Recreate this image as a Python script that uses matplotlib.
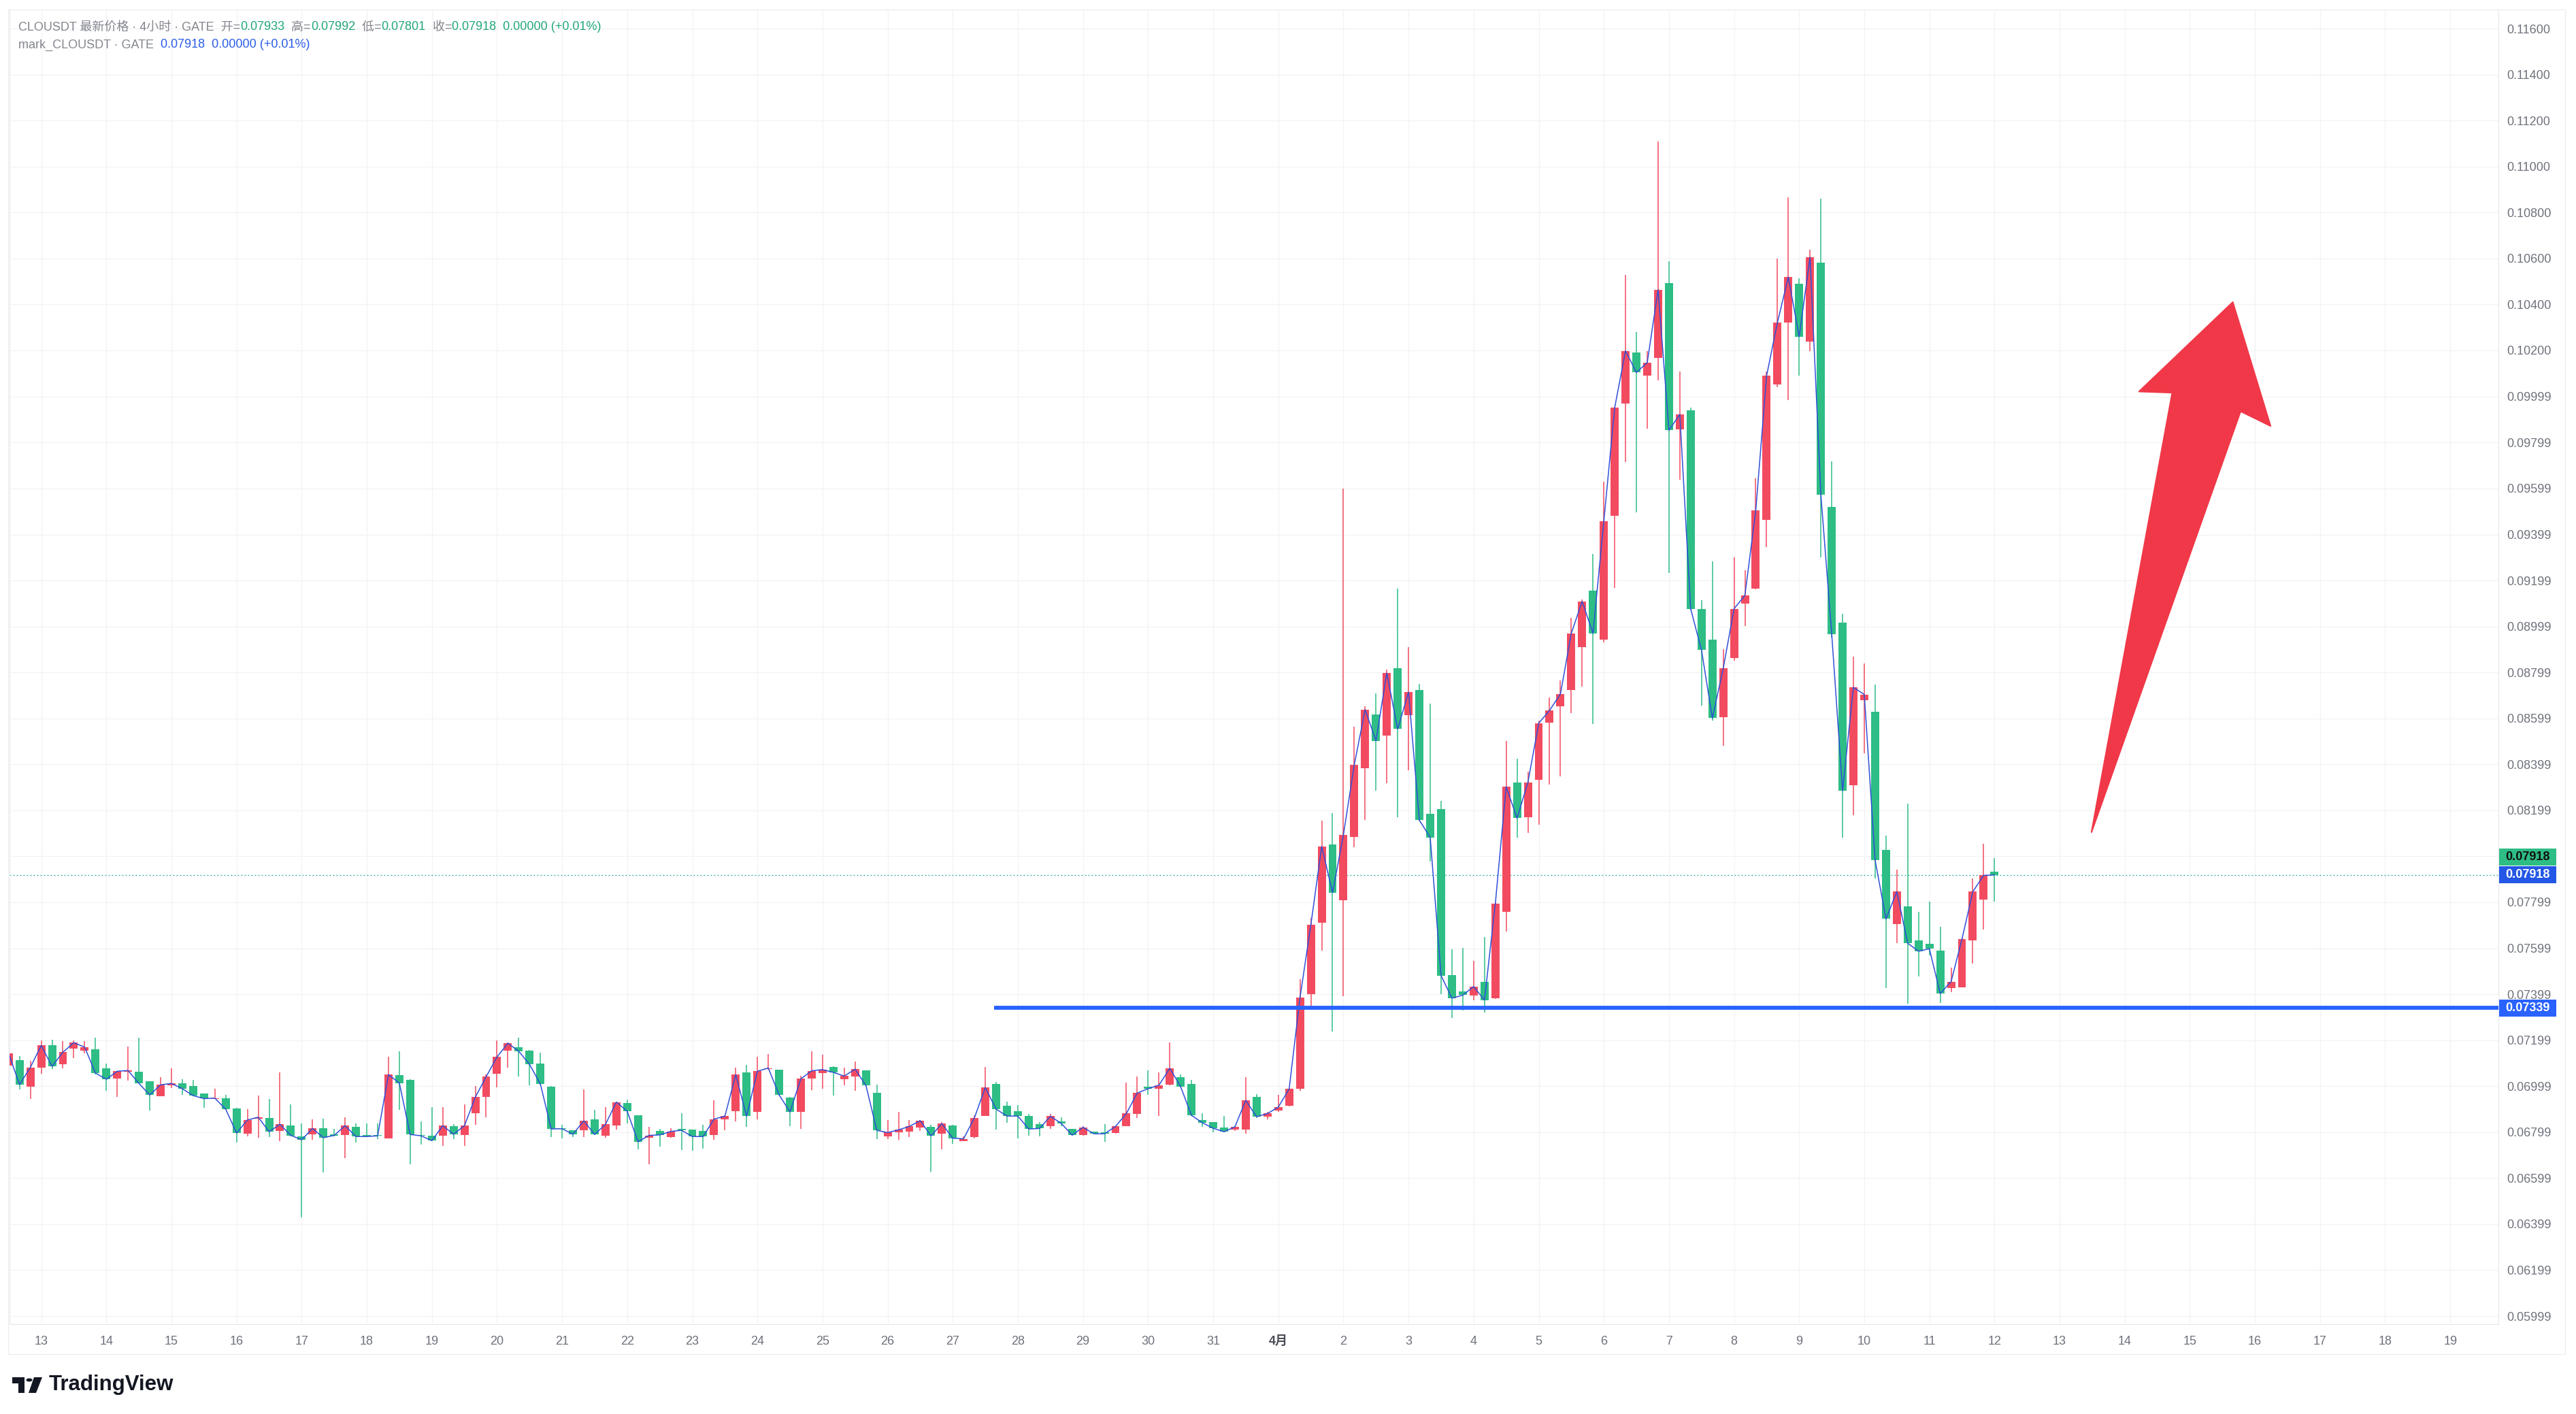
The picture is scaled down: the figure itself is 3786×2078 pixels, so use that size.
import numpy as np
import matplotlib.pyplot as plt
from matplotlib.patches import Polygon, Rectangle, Circle
from matplotlib.transforms import blended_transform_factory

plt.rcParams['font.family'] = ['Liberation Sans', 'Noto Sans CJK SC', 'DejaVu Sans']

# CLOUSDT 4h candles on GATE, first candle 12 Mar 12:00, last 12 Apr 00:00
opens = [0.07088, 0.07113, 0.06997, 0.07080, 0.07176, 0.07094, 0.07163, 0.07155, 0.07161, 0.07076,
         0.07032, 0.07062, 0.07062, 0.07019, 0.06955, 0.07004, 0.07013, 0.06999, 0.06967, 0.06943,
         0.06945, 0.06901, 0.06792, 0.06857, 0.06862, 0.06804, 0.06828, 0.06782, 0.06790, 0.06815,
         0.06790, 0.06786, 0.06821, 0.06786, 0.06787, 0.06772, 0.07046, 0.07026, 0.06785, 0.06784,
         0.06783, 0.06824, 0.06786, 0.06881, 0.06952, 0.07053, 0.07154, 0.07167, 0.07155, 0.07096,
         0.06996, 0.06817, 0.06806, 0.06807, 0.06854, 0.06783, 0.06829, 0.06926, 0.06871, 0.06775,
         0.06804, 0.06777, 0.06812, 0.06809, 0.06803, 0.06786, 0.06854, 0.06889, 0.07058, 0.06887,
         0.07074, 0.07070, 0.06950, 0.06887, 0.07032, 0.07056, 0.07084, 0.07029, 0.07041, 0.07067,
         0.06969, 0.06780, 0.06799, 0.06802, 0.06819, 0.06821, 0.06792, 0.06828, 0.06760, 0.06777,
         0.06869, 0.07010, 0.06913, 0.06889, 0.06868, 0.06833, 0.06825, 0.06847, 0.06812, 0.06786,
         0.06800, 0.06797, 0.06795, 0.06825, 0.06878, 0.06996, 0.06988, 0.07005, 0.07037, 0.07010,
         0.06851, 0.06842, 0.06820, 0.06811, 0.06810, 0.06952, 0.06866, 0.06893, 0.06914, 0.06987,
         0.07400, 0.07709, 0.08050, 0.07809, 0.08082, 0.08383, 0.08616, 0.08525, 0.08816, 0.08614,
         0.08723, 0.08184, 0.08205, 0.07483, 0.07411, 0.07392, 0.07453, 0.07381, 0.07759, 0.08320,
         0.08170, 0.08333, 0.08581, 0.08653, 0.08723, 0.08908, 0.09156, 0.08943, 0.09479, 0.09968,
         0.10191, 0.10091, 0.10167, 0.10492, 0.09856, 0.09938, 0.09076, 0.08942, 0.08605, 0.08862,
         0.09100, 0.09164, 0.09462, 0.10051, 0.10320, 0.10490, 0.10238, 0.10583, 0.09518, 0.09015,
         0.08309, 0.08677, 0.08629, 0.08027, 0.07704, 0.07782, 0.07633, 0.07619, 0.07590, 0.07425,
         0.07430, 0.07633, 0.07812, 0.07933]
highs = [0.07145, 0.07130, 0.07108, 0.07199, 0.07200, 0.07194, 0.07197, 0.07194, 0.07209, 0.07096,
         0.07064, 0.07170, 0.07209, 0.07019, 0.07039, 0.07077, 0.07029, 0.07027, 0.06967, 0.06988,
         0.06960, 0.06906, 0.06898, 0.06957, 0.06942, 0.07059, 0.06921, 0.06838, 0.06855, 0.06859,
         0.06812, 0.06863, 0.06837, 0.06836, 0.06836, 0.07126, 0.07150, 0.07029, 0.06847, 0.06907,
         0.06907, 0.06834, 0.06919, 0.07000, 0.07051, 0.07199, 0.07190, 0.07209, 0.07157, 0.07144,
         0.07000, 0.06830, 0.06806, 0.06984, 0.06895, 0.06907, 0.06932, 0.06940, 0.06871, 0.06822,
         0.06812, 0.06815, 0.06881, 0.06809, 0.06830, 0.06937, 0.06871, 0.07081, 0.07090, 0.07126,
         0.07138, 0.07072, 0.06952, 0.07043, 0.07150, 0.07136, 0.07086, 0.07081, 0.07106, 0.07069,
         0.07007, 0.06853, 0.06887, 0.06851, 0.06851, 0.06832, 0.06842, 0.06832, 0.06782, 0.06873,
         0.07084, 0.07016, 0.06933, 0.06916, 0.06879, 0.06843, 0.06877, 0.06863, 0.06814, 0.06825,
         0.06802, 0.06834, 0.06826, 0.07014, 0.07040, 0.07067, 0.07059, 0.07189, 0.07050, 0.07025,
         0.06881, 0.06844, 0.06868, 0.06824, 0.07037, 0.06964, 0.06886, 0.06960, 0.06990, 0.07464,
         0.07730, 0.08153, 0.08187, 0.09598, 0.08563, 0.08653, 0.08708, 0.08810, 0.09164, 0.08910,
         0.08748, 0.08664, 0.08239, 0.07596, 0.07601, 0.07545, 0.07649, 0.07800, 0.08502, 0.08424,
         0.08368, 0.08590, 0.08690, 0.08765, 0.09037, 0.09115, 0.09314, 0.09628, 0.09955, 0.10527,
         0.10281, 0.10198, 0.11110, 0.10588, 0.10107, 0.09950, 0.09113, 0.09283, 0.08901, 0.09300,
         0.09244, 0.09644, 0.10107, 0.10600, 0.10867, 0.10515, 0.10638, 0.10860, 0.09717, 0.09054,
         0.08867, 0.08838, 0.08747, 0.08088, 0.07940, 0.08227, 0.07758, 0.07803, 0.07692, 0.07515,
         0.07645, 0.07904, 0.08053, 0.07992]
lows = [0.07085, 0.06985, 0.06943, 0.07052, 0.07074, 0.07078, 0.07121, 0.07143, 0.07049, 0.06979,
        0.06952, 0.07023, 0.07011, 0.06893, 0.06955, 0.06992, 0.06960, 0.06955, 0.06905, 0.06943,
        0.06896, 0.06753, 0.06782, 0.06775, 0.06777, 0.06760, 0.06782, 0.06427, 0.06765, 0.06624,
        0.06782, 0.06686, 0.06755, 0.06777, 0.06770, 0.06772, 0.06896, 0.06659, 0.06745, 0.06760,
        0.06739, 0.06770, 0.06739, 0.06832, 0.06863, 0.06994, 0.07081, 0.07040, 0.07003, 0.07004,
        0.06779, 0.06773, 0.06777, 0.06777, 0.06787, 0.06775, 0.06810, 0.06837, 0.06723, 0.06659,
        0.06736, 0.06775, 0.06721, 0.06718, 0.06726, 0.06766, 0.06806, 0.06845, 0.06822, 0.06856,
        0.07071, 0.06958, 0.06825, 0.06812, 0.06983, 0.06988, 0.06958, 0.07004, 0.06979, 0.07000,
        0.06770, 0.06770, 0.06767, 0.06779, 0.06804, 0.06626, 0.06725, 0.06748, 0.06760, 0.06773,
        0.06869, 0.06810, 0.06840, 0.06773, 0.06784, 0.06782, 0.06814, 0.06825, 0.06784, 0.06784,
        0.06792, 0.06757, 0.06793, 0.06825, 0.06861, 0.06960, 0.06869, 0.07003, 0.06995, 0.06870,
        0.06822, 0.06797, 0.06799, 0.06805, 0.06792, 0.06861, 0.06855, 0.06886, 0.06910, 0.06980,
        0.07349, 0.07588, 0.07238, 0.07390, 0.08040, 0.08158, 0.08285, 0.08318, 0.08169, 0.08373,
        0.08150, 0.07976, 0.07400, 0.07296, 0.07329, 0.07374, 0.07318, 0.07378, 0.07673, 0.08081,
        0.08101, 0.08135, 0.08311, 0.08346, 0.08621, 0.08738, 0.08576, 0.08930, 0.09168, 0.09713,
        0.09496, 0.09858, 0.10070, 0.09232, 0.09637, 0.09070, 0.08655, 0.08590, 0.08479, 0.08850,
        0.09000, 0.09160, 0.09343, 0.10040, 0.09985, 0.10090, 0.10198, 0.09300, 0.08950, 0.08080,
        0.08179, 0.08447, 0.07904, 0.07425, 0.07621, 0.07357, 0.07475, 0.07569, 0.07361, 0.07409,
        0.07428, 0.07534, 0.07680, 0.07801]
closes = [0.07141, 0.07006, 0.07081, 0.07176, 0.07085, 0.07147, 0.07188, 0.07169, 0.07056, 0.07029,
          0.07064, 0.07067, 0.07011, 0.06961, 0.07005, 0.07011, 0.06988, 0.06958, 0.06945, 0.06947,
          0.06899, 0.06795, 0.06852, 0.06864, 0.06801, 0.06833, 0.06785, 0.06766, 0.06815, 0.06775,
          0.06785, 0.06827, 0.06780, 0.06780, 0.06783, 0.07049, 0.07013, 0.06789, 0.06783, 0.06762,
          0.06827, 0.06790, 0.06827, 0.06951, 0.07040, 0.07126, 0.07186, 0.07151, 0.07094, 0.07008,
          0.06813, 0.06814, 0.06790, 0.06848, 0.06789, 0.06833, 0.06930, 0.06890, 0.06757, 0.06785,
          0.06787, 0.06802, 0.06807, 0.06780, 0.06780, 0.06856, 0.06868, 0.07049, 0.06869, 0.07064,
          0.07078, 0.06961, 0.06887, 0.07031, 0.07066, 0.07071, 0.07059, 0.07043, 0.07073, 0.07002,
          0.06807, 0.06797, 0.06809, 0.06824, 0.06849, 0.06783, 0.06836, 0.06773, 0.06770, 0.06862,
          0.06993, 0.06899, 0.06869, 0.06869, 0.06813, 0.06815, 0.06868, 0.06837, 0.06786, 0.06820,
          0.06792, 0.06792, 0.06824, 0.06880, 0.06969, 0.06988, 0.07003, 0.07077, 0.06997, 0.06872,
          0.06840, 0.06816, 0.06801, 0.06822, 0.06937, 0.06866, 0.06880, 0.06908, 0.06987, 0.07384,
          0.07701, 0.08042, 0.07841, 0.08092, 0.08397, 0.08637, 0.08502, 0.08796, 0.08553, 0.08713,
          0.08156, 0.08081, 0.07480, 0.07382, 0.07395, 0.07432, 0.07374, 0.07793, 0.08302, 0.08165,
          0.08320, 0.08578, 0.08634, 0.08705, 0.08969, 0.09108, 0.08969, 0.09457, 0.09951, 0.10198,
          0.10104, 0.10147, 0.10464, 0.09853, 0.09921, 0.09076, 0.08896, 0.08600, 0.08816, 0.09076,
          0.09134, 0.09504, 0.10090, 0.10322, 0.10519, 0.10260, 0.10605, 0.09572, 0.08966, 0.08285,
          0.08734, 0.08703, 0.07982, 0.07727, 0.07845, 0.07621, 0.07586, 0.07597, 0.07402, 0.07454,
          0.07638, 0.07845, 0.07916, 0.07918]

day_labels = ['13', '14', '15', '16', '17', '18', '19', '20', '21', '22', '23', '24', '25', '26',
              '27', '28', '29', '30', '31', '4月', '2', '3', '4', '5', '6', '7', '8', '9', '10',
              '11', '12', '13', '14', '15', '16', '17', '18', '19']
price_ticks = [0.116, 0.114, 0.112, 0.110, 0.108, 0.106, 0.104, 0.102, 0.09999, 0.09799, 0.09599,
               0.09399, 0.09199, 0.08999, 0.08799, 0.08599, 0.08399, 0.08199, 0.07999, 0.07799,
               0.07599, 0.07399, 0.07199, 0.06999, 0.06799, 0.06599, 0.06399, 0.06199, 0.05999]
price_labels = ['0.11600', '0.11400', '0.11200', '0.11000', '0.10800', '0.10600', '0.10400',
                '0.10200', '0.09999', '0.09799', '0.09599', '0.09399', '0.09199', '0.08999',
                '0.08799', '0.08599', '0.08399', '0.08199', '', '0.07799', '0.07599', '0.07399',
                '0.07199', '0.06999', '0.06799', '0.06599', '0.06399', '0.06199', '0.05999']
support = 0.07339
last_price = 0.07918
support_start = 14.63   # day where the drawn support line begins

# hand-drawn arrow (day, price)
arrow_x = [33.66, 34.24, 33.78, 31.49, 32.73, 32.22]
arrow_y = [0.10410, 0.09871, 0.09935, 0.08104, 0.10016, 0.10021]

UP = '#f24b60'
DOWN = '#2dbd85'
GRAY = '#6f727c'

W, H = 3786, 2078
fig = plt.figure(figsize=(W / 100, H / 100), dpi=100)
ax = fig.add_axes([14 / W, 1 - 1946 / H, (3672 - 14) / W, (1946 - 14) / H])
ax.set_xlim(-0.487, 37.74)
ax.set_ylim(0.059636, 0.116829)

o = np.array(opens)
h = np.array(highs)
l = np.array(lows)
c = np.array(closes)
t = -0.5 + np.arange(len(o)) / 6
cols = np.where(c >= o, UP, DOWN)

ax.vlines(t, l, h, colors=cols, lw=1.1, zorder=2)
body = np.maximum(np.abs(c - o), 0.00003)
ax.bar(t, body, bottom=np.minimum(o, c), width=0.125, color=cols, lw=0, zorder=3)
ax.plot(t, c, color='#3050d8', lw=1.1, zorder=4)

ax.axhline(last_price, color='#26a69a', lw=0.9, ls=(0, (1.5, 2.5)), zorder=1)
ax.plot([support_start, 37.74], [support, support], color='#2962ff', lw=4.2,
        solid_capstyle='butt', zorder=5)

ax.add_patch(Polygon(list(zip(arrow_x, arrow_y)), closed=True, fc='#f03848', ec='#f03848',
                     lw=1.5, joinstyle='round', zorder=6))

# axes and grid
ax.set_xticks(range(len(day_labels)), day_labels)
ax.set_yticks(price_ticks, price_labels)
ax.yaxis.tick_right()
ax.grid(True, color='#f3f3f5', lw=0.9, zorder=0)
ax.set_axisbelow(True)
ax.tick_params(axis='both', length=0, labelsize=13, labelcolor=GRAY)
ax.tick_params(axis='y', pad=9)
ax.tick_params(axis='x', pad=12)
ax.get_xticklabels()[19].set_fontweight('bold')
ax.get_xticklabels()[19].set_color('#4a4d57')
for s in ax.spines.values():
    s.set_color('#e6e7ea')
    s.set_linewidth(0.8)

fig.add_artist(Rectangle((12 / W, 1 - 1990 / H), (3770 - 12) / W, (1990 - 14) / H,
                         transform=fig.transFigure, fill=False, ec='#ececef', lw=0.8))

# price tags on the right scale
tr = blended_transform_factory(ax.transAxes, ax.transData)
tag_w = 84 / (3672 - 14)
tag_h = 25 / 33780


def price_tag(y, text, fc, tc):
    ax.add_patch(Rectangle((1.0003, y - tag_h / 2), tag_w, tag_h, transform=tr, fc=fc, ec='none',
                           clip_on=False, zorder=10))
    ax.text(1.0003 + tag_w / 2, y, text, transform=tr, ha='center', va='center', fontsize=13,
            color=tc, fontweight='bold', clip_on=False, zorder=11)


price_tag(support, '0.07339', '#2962ff', 'white')
price_tag(last_price + 26 / 33780, '0.07918', '#2dbd85', '#111111')
price_tag(last_price, '0.07918', '#2457e6', 'white')

# header legend
renderer = fig.canvas.get_renderer()


def legend_line(x_px, y_px, parts):
    x = x_px
    for s, col in parts:
        tx = fig.text(x / W, 1 - y_px / H, s, color=col, fontsize=13, ha='left', va='center')
        x += tx.get_window_extent(renderer).width


LG = '#84868f'
GN = '#22a77a'
BL = '#2b5ce6'
legend_line(27, 40, [('CLOUSDT 最新价格 · 4小时 · GATE  开=', LG), ('0.07933', GN), ('  高=', LG),
                     ('0.07992', GN), ('  低=', LG), ('0.07801', GN), ('  收=', LG),
                     ('0.07918  0.00000 (+0.01%)', GN)])
legend_line(27, 66, [('mark_CLOUSDT · GATE  ', LG), ('0.07918  0.00000 (+0.01%)', BL)])

# TradingView mark
def px(x, y):
    return (x / W, 1 - y / H)


logo = '#131722'
fig.add_artist(Polygon([px(18, 2024), px(36, 2024), px(36, 2047), px(27, 2047), px(27, 2033),
                        px(18, 2033)], closed=True, transform=fig.transFigure, fc=logo, ec='none'))
fig.add_artist(Circle(px(43, 2028), 4.5 / W, transform=fig.transFigure, fc=logo, ec='none'))
fig.add_artist(Polygon([px(50, 2024), px(62, 2024), px(53, 2047), px(42, 2047)], closed=True,
                       transform=fig.transFigure, fc=logo, ec='none'))
fig.text(72 / W, 1 - 2035 / H, 'TradingView', fontsize=22.5, fontweight='bold', color=logo,
         ha='left', va='center')

fig.savefig('out.png', dpi=100)
